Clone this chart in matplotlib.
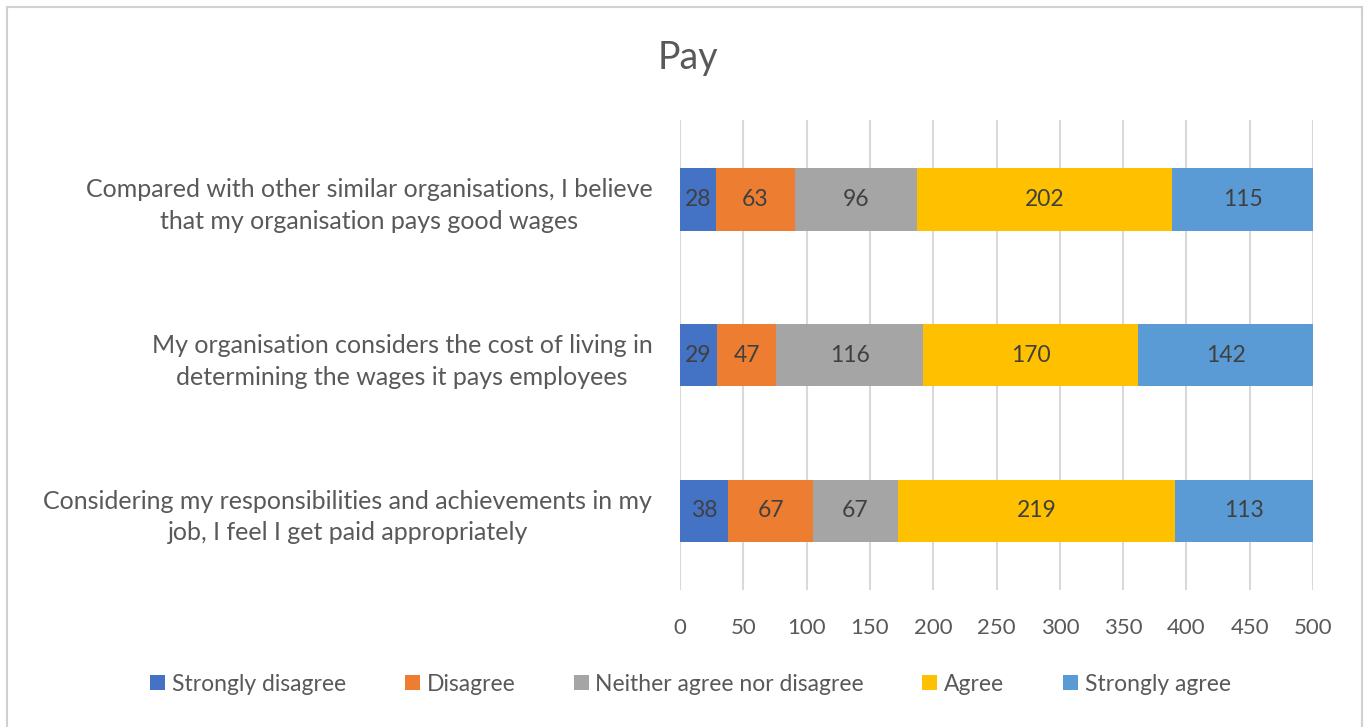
import numpy as np
import matplotlib.pyplot as plt
import matplotlib as mpl
from matplotlib.patches import Rectangle

mpl.rcParams.update({
    'font.family': ['Lato', 'DejaVu Sans'],
    'text.color': '#595959',
})

# ---------------------------------------------------------------------------
# Data
# ---------------------------------------------------------------------------
questions = [
    "Considering my responsibilities and achievements in my\njob, I feel I get paid appropriately",
    "My organisation considers the cost of living in\ndetermining the wages it pays employees",
    "Compared with other similar organisations, I believe\nthat my organisation pays good wages",
]
series_names = ["Strongly disagree", "Disagree", "Neither agree nor disagree",
                "Agree", "Strongly agree"]
strongly_disagree = [38, 29, 28]
disagree = [67, 47, 63]
neither = [67, 116, 96]
agree = [219, 170, 202]
strongly_agree = [113, 142, 115]
colors = ['#4472C4', '#ED7D31', '#A5A5A5', '#FFC000', '#5B9BD5']

values = [strongly_disagree, disagree, neither, agree, strongly_agree]
XMAX = 500

# ---------------------------------------------------------------------------
# Figure
# ---------------------------------------------------------------------------
fig = plt.figure(figsize=(13.7, 7.27), dpi=100)
fig.patches.append(Rectangle((0.005, -0.01), 0.989, 1.0, transform=fig.transFigure,
                             fill=False, edgecolor='#D0D0D0', linewidth=1.5))
ax = fig.add_axes([0.4964, 0.1884, 0.4620, 0.6465])

y = np.arange(len(questions))
left = np.zeros(len(questions))
for name, vals, col in zip(series_names, values, colors):
    vals = np.array(vals, dtype=float)
    ax.barh(y, vals, left=left, height=0.4, color=col, label=name, zorder=3)
    for yi, l, v in zip(y, left, vals):
        vis_end = min(l + v, XMAX)
        ax.text((l + vis_end) / 2, yi, f'{int(v)}', ha='center', va='center',
                fontsize=16.5, color='#404040', zorder=4)
    left += vals

ax.set_xlim(0, XMAX)
ax.set_ylim(-0.51, 2.51)
ax.set_xticks(np.arange(0, 501, 50))
ax.set_yticks(y)
ax.set_yticklabels(questions, fontsize=18, multialignment='center', linespacing=1.45)
ax.tick_params(axis='both', length=0, colors='#595959')
ax.tick_params(axis='x', labelsize=16, pad=20)
ax.tick_params(axis='y', pad=20)
ax.grid(axis='x', color='#D9D9D9', linewidth=1.5, zorder=0)
for s in ax.spines.values():
    s.set_visible(False)

fig.text(0.502, 0.92, 'Pay', ha='center', va='center', fontsize=27, color='#595959')

handles, labels = ax.get_legend_handles_labels()
fig.legend(handles, labels, loc='center', bbox_to_anchor=(0.504, 0.059), ncol=5,
           frameon=False, fontsize=16.5, handlelength=0.65, handleheight=0.65,
           handletextpad=0.3, columnspacing=2.55, labelcolor='#595959')

fig.savefig('out.png', dpi=100, facecolor='white')
